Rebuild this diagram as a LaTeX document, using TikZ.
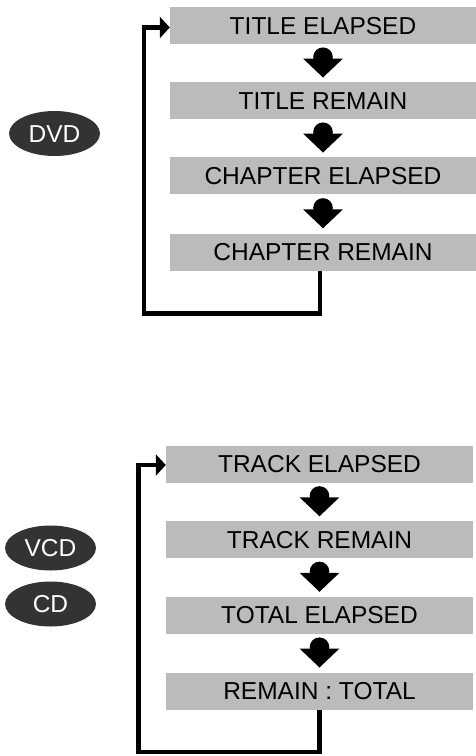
\documentclass[tikz,border=0pt]{standalone}
\usepackage{fontspec}
\setmainfont{Liberation Sans}
\usetikzlibrary{shapes.geometric,arrows.meta,calc}
\definecolor{boxgray}{RGB}{187,187,187}
\definecolor{discdark}{RGB}{51,51,51}
\tikzset{
  modebox/.style={rectangle, fill=boxgray, minimum width=#1, minimum height=37pt, inner sep=0pt,
    font=\fontsize{24.5}{24.5}\selectfont, text height=17.5pt, text depth=0pt},
  disc/.style={ellipse, fill=discdark, text=white, minimum width=91pt, minimum height=45pt, inner sep=0pt,
    font=\fontsize{24.5}{24.5}\selectfont, text height=17.5pt, text depth=0pt},
  loopline/.style={line width=4.5pt, -{Triangle[length=10pt,width=21pt]}},
  dmark/.pic={\fill (0,-5.8) circle (9.8pt); \fill (-20,-4.5) -- (20,-4.5) -- (0,14.5) -- cycle;}
}
\begin{document}
\begin{tikzpicture}[x=1pt,y=-1pt]
\useasboundingbox (0,0) rectangle (476,756);
% DVD group
\node[disc] (dvd) at (54.5,133.5) {DVD};
\node[modebox=306pt] (t1) at (323,25.5) {TITLE ELAPSED};
\node[modebox=306pt] (t2) at (323,100.5) {TITLE REMAIN};
\node[modebox=306pt] (t3) at (323,175.5) {CHAPTER ELAPSED};
\node[modebox=306pt] (t4) at (323,252) {CHAPTER REMAIN};
\pic at ($(t1.south)!0.5!(t2.north)$) {dmark};
\pic at ($(t2.south)!0.5!(t3.north)$) {dmark};
\pic at ($(t3.south)!0.5!(t4.north)$) {dmark};
\draw[loopline] ([xshift=-3pt]t4.south) -- ++(0,43) -| ($([yshift=-2pt]t1.west)+(-26,0)$) -- ([yshift=-2pt]t1.west);
% VCD / CD group
\node[disc] (vcd) at (50.5,548) {VCD};
\node[disc] (cd) at (50.5,604) {CD};
\node[modebox=307pt] (k1) at (319.5,464) {TRACK ELAPSED};
\node[modebox=307pt] (k2) at (319.5,539.5) {TRACK REMAIN};
\node[modebox=307pt] (k3) at (319.5,615) {TOTAL ELAPSED};
\node[modebox=307pt] (k4) at (319.5,691) {REMAIN : TOTAL};
\pic at ($(k1.south)!0.5!(k2.north)$) {dmark};
\pic at ($(k2.south)!0.5!(k3.north)$) {dmark};
\pic at ($(k3.south)!0.5!(k4.north)$) {dmark};
\draw[loopline] (k4.south) -- ++(0,42.5) -| ($([yshift=-1pt]k1.west)+(-27.5,0)$) -- ([yshift=-1pt]k1.west);
\end{tikzpicture}
\end{document}
